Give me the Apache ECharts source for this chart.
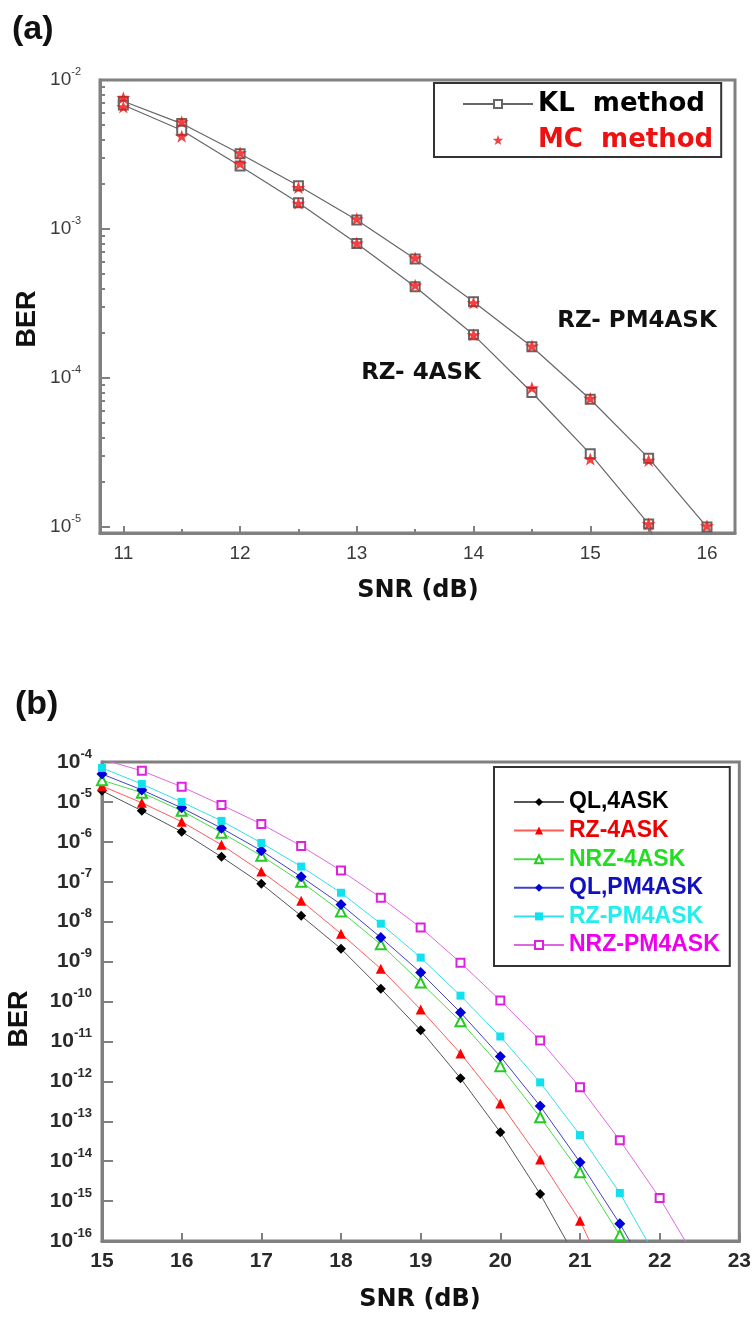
<!DOCTYPE html>
<html><head><meta charset="utf-8">
<script src="https://cdn.jsdelivr.net/npm/echarts@6/dist/echarts.min.js"></script>
<style>html,body{margin:0;padding:0;background:#fff}#c{width:754px;height:1320px}</style>
</head><body><div id="c"></div>
<script>
// ---------- Panel (a) data ----------
const snrA = [11, 11.5, 12, 12.5, 13, 13.5, 14, 14.5, 15, 15.5, 16];
const klPM4ASK = [7.2e-3, 5.1e-3, 3.2e-3, 1.95e-3, 1.15e-3, 6.3e-4, 3.25e-4, 1.62e-4, 7.2e-5, 2.9e-5, 1.0e-5];
const mcPM4ASK = [7.6e-3, 5.25e-3, 3.25e-3, 1.9e-3, 1.17e-3, 6.4e-4, 3.2e-4, 1.64e-4, 7.3e-5, 2.8e-5, 1.02e-5];
const klRZ4ASK = [6.8e-3, 4.6e-3, 2.65e-3, 1.5e-3, 8.0e-4, 4.1e-4, 1.95e-4, 8.0e-5, 3.1e-5, 1.05e-5, 6e-7];
const mcRZ4ASK = [6.6e-3, 4.2e-3, 2.75e-3, 1.49e-3, 8.05e-4, 4.2e-4, 1.95e-4, 8.6e-5, 2.86e-5, 1.05e-5];
const xTicksA = [11, 12, 13, 14, 15, 16];
const xMinorA = [11.5, 12.5, 13.5, 14.5, 15.5];
const yTicksA = [1e-5, 1e-4, 1e-3, 1e-2];
const legendA = ['KL  method', 'MC  method'];
const curveLabelsA = ['RZ- PM4ASK', 'RZ- 4ASK'];

// ---------- Panel (b) data ----------
const snrB = [15, 15.5, 16, 16.5, 17, 17.5, 18, 18.5, 19, 19.5, 20, 20.5, 21, 21.5, 22, 22.5];
const ql4ASK   = [1.9e-5, 6.0e-6, 1.8e-6, 4.2e-7, 8.9e-8, 1.4e-8, 2.1e-9, 2.1e-10, 1.9e-11, 1.2e-12, 5.3e-14, 1.5e-15, 2.5e-17];
const rz4ASK   = [2.5e-5, 9.5e-6, 3.2e-6, 8.4e-7, 1.8e-7, 3.35e-8, 5.0e-9, 6.6e-10, 6.3e-11, 5.0e-12, 2.8e-13, 1.1e-14, 3.2e-16, 2.5e-18];
const nrz4ASK  = [3.5e-5, 1.7e-5, 6.0e-6, 1.7e-6, 4.5e-7, 1.0e-7, 1.8e-8, 2.7e-9, 3.0e-10, 3.2e-11, 2.4e-12, 1.26e-13, 5.3e-15, 1.4e-16, 3e-18];
const qlPM4ASK = [5.0e-5, 2.0e-5, 7.1e-6, 2.2e-6, 6.0e-7, 1.33e-7, 2.7e-8, 4.0e-9, 5.3e-10, 5.3e-11, 4.2e-12, 2.4e-13, 9.4e-15, 2.7e-16, 5e-18];
const rzPM4ASK = [7.1e-5, 2.8e-5, 1.0e-5, 3.35e-6, 9.4e-7, 2.4e-7, 5.3e-8, 8.9e-9, 1.26e-9, 1.4e-10, 1.33e-11, 9.4e-13, 4.5e-14, 1.6e-15, 2.8e-17];
const nrzPM4ASK = [1.17e-4, 6.0e-5, 2.4e-5, 8.4e-6, 2.8e-6, 7.9e-7, 1.9e-7, 4.0e-8, 7.1e-9, 9.4e-10, 1.06e-10, 1.06e-11, 7.1e-13, 3.35e-14, 1.2e-15, 2.5e-17];
const xTicksB = [15, 16, 17, 18, 19, 20, 21, 22, 23];
const yTicksB = [1e-16, 1e-15, 1e-14, 1e-13, 1e-12, 1e-11, 1e-10, 1e-9, 1e-8, 1e-7, 1e-6, 1e-5, 1e-4];
const namesB = ['QL,4ASK', 'RZ-4ASK', 'NRZ-4ASK', 'QL,PM4ASK', 'RZ-PM4ASK', 'NRZ-PM4ASK'];

// ---------- helpers ----------
const pairs = (xs, ys) => ys.map((v, i) => [xs[i], v]);
const yMinorA = [];
yTicksA.slice(0, -1).forEach(d => { for (let k = 2; k <= 9; k++) yMinorA.push(d * k); });
const AX = '#808080';
const F = '"Liberation Sans", Arial, sans-serif';
const FW = '"DejaVu Sans", sans-serif';
const STAR = 'path://M50,0 L61.8,35.1 L98.9,35.1 L68.9,56.7 L80.3,91.9 L50,70.2 L19.7,91.9 L31.1,56.7 L1.1,35.1 L38.2,35.1 Z';
const supFmt = v => '{man|10}{ex|' + Math.round(Math.log10(v)) + '}';
const richLbl = (size, sup, color, weight) => ({
  man: { fontSize: size, fontFamily: F, fontWeight: weight, color: color, lineHeight: size + 8, verticalAlign: 'middle' },
  ex: { fontSize: sup, fontFamily: F, fontWeight: weight, color: color, lineHeight: sup + 2, verticalAlign: 'top' }
});

const chart = echarts.init(document.getElementById('c'), null, { renderer: 'canvas' });

const lineB = ['#555555', '#ff5a5a', '#44dd44', '#4040cc', '#33dded', '#e066e0'];
const markB = ['#000000', '#ff0000', '#22cc22', '#0000d8', '#11e0ee', '#dd22dd'];
const symB = ['diamond', 'triangle', 'emptyTriangle', 'diamond', 'rect', 'emptyRect'];
const sizeB = [10, 10, 10, 11, 8, 8];
const textB = ['#000000', '#ee0000', '#22dd22', '#1010c0', '#22eeee', '#ee00ee'];
const dataB = [ql4ASK, rz4ASK, nrz4ASK, qlPM4ASK, rzPM4ASK, nrzPM4ASK];

const seriesB = namesB.map((n, i) => ({
  name: n, type: 'line', xAxisIndex: 1, yAxisIndex: 1,
  data: pairs(snrB, dataB[i]),
  symbol: symB[i], symbolSize: sizeB[i], showAllSymbol: true,
  lineStyle: { color: lineB[i], width: 1 },
  itemStyle: { color: markB[i], borderWidth: 1 },
  emphasis: { disabled: true }, animation: false
}));

const option = {
  animation: false,
  backgroundColor: '#fff',
  grid: [
    { left: 100, top: 80, width: 635, height: 453, show: true, borderColor: AX, borderWidth: 3 },
    { left: 102, top: 762, width: 639, height: 479, show: true, borderColor: AX, borderWidth: 3 }
  ],
  xAxis: [
    { gridIndex: 0, type: 'value', position: 'bottom', min: 10.8, max: 16.24,
      axisLine: { lineStyle: { color: AX, width: 3 } },
      axisTick: { inside: true, length: 7, customValues: xTicksA, lineStyle: { color: AX, width: 2 } },
      axisLabel: { customValues: xTicksA, margin: 11, fontSize: 19, fontFamily: F, color: '#3a3a3a' },
      splitLine: { show: false } },
    { gridIndex: 1, type: 'value', position: 'bottom', min: 15, max: 23,
      axisLine: { lineStyle: { color: AX, width: 3 } },
      axisTick: { inside: true, length: 8, customValues: xTicksB, lineStyle: { color: AX, width: 2 } },
      axisLabel: { customValues: xTicksB, margin: 10, fontSize: 21, fontWeight: 'bold', fontFamily: F, color: '#2a2a2a' },
      splitLine: { show: false } },
    { gridIndex: 0, type: 'value', position: 'bottom', min: 10.8, max: 16.24,
      axisLine: { show: false },
      axisTick: { inside: true, length: 4, customValues: xMinorA, lineStyle: { color: AX, width: 2 } },
      axisLabel: { show: false }, splitLine: { show: false } }
  ],
  yAxis: [
    { gridIndex: 0, type: 'log', position: 'left', min: Math.pow(10, -5.04), max: 1e-2,
      axisLine: { lineStyle: { color: AX, width: 3 } },
      axisTick: { inside: true, length: 10, customValues: yTicksA, lineStyle: { color: AX, width: 2 } },
      axisLabel: { customValues: yTicksA, margin: 19, fontSize: 19, fontFamily: F, color: '#3a3a3a',
        formatter: supFmt, rich: richLbl(19, 11, '#3a3a3a', 'normal') },
      splitLine: { show: false } },
    { gridIndex: 1, type: 'log', position: 'left', min: 1e-16, max: 1e-4,
      axisLine: { lineStyle: { color: AX, width: 3 } },
      axisTick: { inside: true, length: 11, customValues: yTicksB, lineStyle: { color: AX, width: 2 } },
      axisLabel: { customValues: yTicksB, margin: 10, fontSize: 21, fontFamily: F, color: '#2a2a2a',
        formatter: supFmt, rich: richLbl(21, 13, '#2a2a2a', 'bold') },
      splitLine: { show: false } },
    { gridIndex: 0, type: 'log', position: 'left', min: Math.pow(10, -5.04), max: 1e-2,
      axisLine: { show: false },
      axisTick: { inside: true, length: 5, customValues: yMinorA, lineStyle: { color: AX, width: 2 } },
      axisLabel: { show: false }, splitLine: { show: false } }
  ],
  legend: [
    { left: 434, top: 83, orient: 'vertical', selectedMode: false,
      data: [
        { name: legendA[0], textStyle: { color: '#000' } },
        { name: legendA[1], textStyle: { color: '#ee1111' } }
      ],
      itemWidth: 70, itemHeight: 10, itemGap: 6, padding: [6, 8, 2, 28],
      backgroundColor: '#fff', borderColor: '#333', borderWidth: 2,
      textStyle: { fontFamily: FW, fontWeight: 'bold', fontSize: 26, lineHeight: 30 } },
    { left: 494, top: 767, orient: 'vertical', selectedMode: false,
      data: namesB.map((n, i) => ({ name: n, textStyle: { color: textB[i] } })),
      itemWidth: 50, itemHeight: 10, itemGap: 4.6, padding: [23, 10, 9, 19],
      backgroundColor: '#fff', borderColor: '#333', borderWidth: 2,
      textStyle: { fontFamily: F, fontWeight: 'bold', fontSize: 23, lineHeight: 24 } }
  ],
  graphic: [
    { type: 'text', left: 12, top: 13, style: { text: '(a)', font: 'bold 34px ' + F, fill: '#111' } },
    { type: 'text', left: 15, top: 688, style: { text: '(b)', font: 'bold 34px ' + F, fill: '#111' } },
    { type: 'text', x: 28, y: 319, rotation: Math.PI / 2, style: { text: 'BER', font: 'bold 27px ' + F, fill: '#111', align: 'center', verticalAlign: 'middle' } },
    { type: 'text', x: 20, y: 1019, rotation: Math.PI / 2, style: { text: 'BER', font: 'bold 27px ' + F, fill: '#111', align: 'center', verticalAlign: 'middle' } },
    { type: 'text', x: 418, y: 591, style: { text: 'SNR (dB)', font: 'bold 24px ' + FW, fill: '#111', align: 'center', verticalAlign: 'middle' } },
    { type: 'text', x: 420, y: 1300, style: { text: 'SNR (dB)', font: 'bold 24px ' + FW, fill: '#111', align: 'center', verticalAlign: 'middle' } },
    { type: 'text', x: 637, y: 321, style: { text: curveLabelsA[0], font: 'bold 23px ' + FW, fill: '#111', align: 'center', verticalAlign: 'middle' } },
    { type: 'text', x: 421, y: 373, style: { text: curveLabelsA[1], font: 'bold 23px ' + FW, fill: '#111', align: 'center', verticalAlign: 'middle' } }
  ],
  series: [
    { name: legendA[0], type: 'line', xAxisIndex: 0, yAxisIndex: 0, data: pairs(snrA, klPM4ASK),
      symbol: 'emptyRect', symbolSize: 9, showAllSymbol: true,
      lineStyle: { color: '#666', width: 1.2 }, itemStyle: { color: '#666', borderWidth: 1 }, z: 2 },
    { name: legendA[0], type: 'line', xAxisIndex: 0, yAxisIndex: 0, data: pairs(snrA, klRZ4ASK),
      symbol: 'emptyRect', symbolSize: 9, showAllSymbol: true,
      lineStyle: { color: '#666', width: 1.2 }, itemStyle: { color: '#666', borderWidth: 1 }, z: 2 },
    { name: legendA[1], type: 'scatter', xAxisIndex: 0, yAxisIndex: 0, data: pairs(snrA, mcPM4ASK),
      symbol: STAR, symbolSize: [14, 13], itemStyle: { color: '#f01010' }, z: 3 },
    { name: legendA[1], type: 'scatter', xAxisIndex: 0, yAxisIndex: 0, data: pairs(snrA, mcRZ4ASK),
      symbol: STAR, symbolSize: [14, 13], itemStyle: { color: '#f01010' }, z: 3 }
  ].concat(seriesB)
};
chart.setOption(option);
</script>
</body></html>
